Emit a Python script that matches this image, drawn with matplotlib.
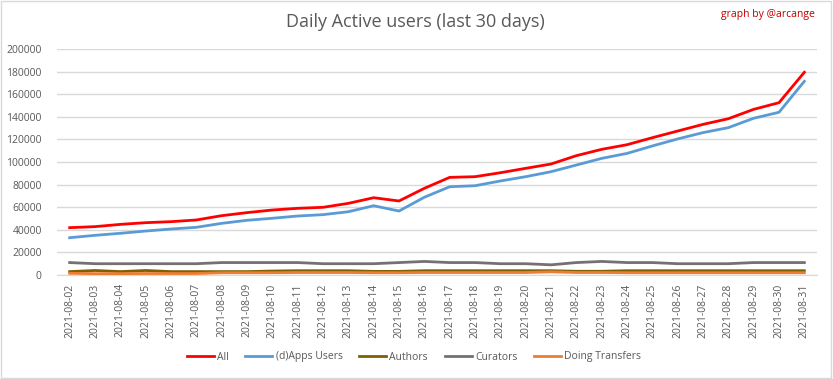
import matplotlib
matplotlib.use("Agg")
import matplotlib.pyplot as plt
import numpy as np

# %% data
dates = ["2021-08-%02d" % d for d in range(2, 32)]

all_users = [41900, 42800, 44800, 46300, 47200, 48700, 52500, 55200, 57500, 59000,
             59900, 63400, 68400, 65500, 76700, 86400, 87000, 90500, 94400, 98200,
             105600, 111200, 115300, 121500, 127400, 133300, 138300, 146600, 152500, 179400]
apps_users = [33000, 35100, 36900, 38900, 40700, 42200, 45700, 48400, 50200, 52200,
              53400, 56000, 61300, 56600, 68800, 78100, 79000, 83200, 87000, 91400,
              97300, 103200, 107600, 114200, 120400, 126000, 130400, 138700, 144000, 171400]
authors = [3000, 4000, 3000, 4000, 3000, 3000, 3000, 3000, 3500, 3800,
           3800, 3800, 3200, 3200, 3800, 3800, 3800, 3800, 3800, 3800,
           3300, 3300, 3800, 3800, 3800, 3800, 3800, 3800, 3800, 3800]
curators = [11000, 10000, 10000, 10000, 10000, 10000, 11000, 11000, 11000, 11000,
            10000, 10000, 10000, 11000, 12000, 11000, 11000, 10000, 10000, 9000,
            11000, 12000, 11000, 11000, 10000, 10000, 10000, 11000, 11000, 11000]
transfers = [1500, 1200, 1200, 1300, 1300, 1300, 2000, 2000, 2000, 2200,
             2200, 2200, 2000, 2000, 2200, 2200, 2200, 2200, 2200, 2800,
             2200, 2200, 2000, 2000, 2000, 2000, 2000, 2000, 2000, 2000]

# %% plot
txt = '#595959'
plt.rcParams['font.family'] = ['Open Sans', 'DejaVu Sans']

fig = plt.figure(figsize=(8.33, 3.79), dpi=100)
ax = fig.add_axes([57/833, 1-275/379, 760/833, 226/379])

x = np.arange(len(dates))
ax.plot(x, all_users, color='#FF0000', lw=2, label='All', zorder=5)
ax.plot(x, apps_users, color='#5B9BD5', lw=2, label='(d)Apps Users', zorder=4)
ax.plot(x, authors, color='#7F6000', lw=2, label='Authors', zorder=3)
ax.plot(x, curators, color='#767171', lw=2, label='Curators', zorder=3)
ax.plot(x, transfers, color='#ED7D31', lw=2, label='Doing Transfers', zorder=3)

ax.set_xlim(-0.5, len(dates) - 0.5)
ax.set_ylim(0, 200000)
ax.set_yticks(range(0, 200001, 20000))
ax.set_xticks(x)
ax.set_xticklabels(dates, rotation=90)
ax.grid(axis='y', color='#D9D9D9', lw=1)
ax.set_axisbelow(True)
for s in ['top', 'right', 'left']:
    ax.spines[s].set_visible(False)
ax.spines['bottom'].set_color('#D9D9D9')
ax.tick_params(axis='both', length=0, labelsize=7.5, labelcolor=txt)
ax.tick_params(axis='y', pad=11)
ax.tick_params(axis='x', pad=6)

fig.text(0.499, 1-22/379, 'Daily Active users (last 30 days)', ha='center', va='center',
         fontsize=13, color=txt)
fig.text(815/833, 1-15/379, 'graph by @arcange', ha='right', va='center',
         fontsize=7.5, color='#C00000')

fig.legend(loc='center', bbox_to_anchor=(0.497, 1-357/379), ncol=5, frameon=False,
           fontsize=7.5, labelcolor=txt, handlelength=2.6, handletextpad=0.3, columnspacing=1.6)

# chart border
fig.patches.append(plt.Rectangle((0.001, 0.002), 0.997, 0.996, transform=fig.transFigure,
                                 fill=False, ec='#D9D9D9', lw=1))

fig.savefig('out.png', dpi=100)
